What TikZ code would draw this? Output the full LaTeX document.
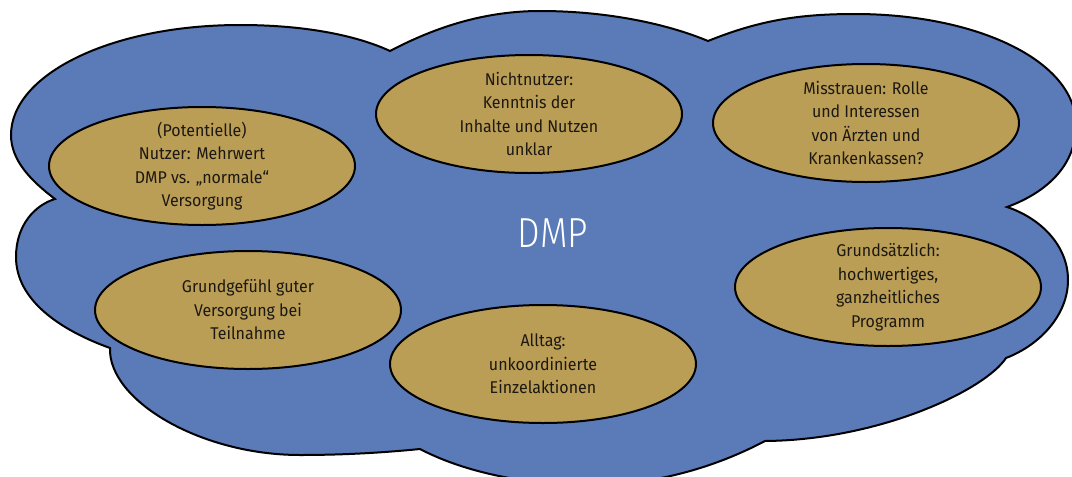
\documentclass[tikz,border=0pt]{standalone}
\usepackage{fontspec}
\setmainfont[FakeStretch=0.94]{Fira Sans}
\newfontfamily\lightsans[FakeStretch=0.85]{Fira Sans Light}
\usepackage{xcolor}
\usepackage{tikz}
\usetikzlibrary{shapes}

\definecolor{cloudblue}{RGB}{90,122,184}
\definecolor{topicgold}{RGB}{187,158,86}
\definecolor{textdark}{RGB}{28,24,18}

\begin{document}
\begin{tikzpicture}[x=1pt, y=-1pt]
        \tikzstyle{cloudline} = [draw=black, line width=2pt, fill=cloudblue]
        \tikzstyle{topic} = [ellipse, draw=black, line width=2pt, fill=topicgold,
            minimum width=306pt, minimum height=118pt, inner xsep=0pt, inner ysep=-12pt,
            align=center, text=textdark, font=\fontsize{17}{23.5}\selectfont]
        \useasboundingbox (0,0) rectangle (1072,477);
        
        % cusps of the cloud
        \coordinate (c1) at (390,51);
        \coordinate (c2) at (708,41);
        \coordinate (c3) at (1007,207);
        \coordinate (c4) at (1006,358);
        \coordinate (c5) at (765,441);
        \coordinate (c6) at (420,449);
        \coordinate (c7) at (110,348);
        \coordinate (c8) at (55,199);
        
        \path [cloudline] (c8) .. controls (30,180) and (11,160) .. (11,135)
            .. controls (11,75) and (110,25) .. (240,25)
            .. controls (310,25) and (360,37) .. (c1)
            .. controls (430,30) and (480,11) .. (540,11)
            .. controls (610,11) and (670,25) .. (c2)
            .. controls (760,20) and (800,14) .. (855,14)
            .. controls (975,14) and (1076,60) .. (1076,125)
            .. controls (1076,170) and (1040,195) .. (c3)
            .. controls (1040,218) and (1068,245) .. (1068,280)
            .. controls (1068,315) and (1040,345) .. (c4)
            .. controls (985,390) and (880,440) .. (c5)
            .. controls (710,470) and (650,485) .. (590,485)
            .. controls (520,485) and (460,470) .. (c6)
            .. controls (380,453) and (340,455) .. (300,455)
            .. controls (200,455) and (108,400) .. (c7)
            .. controls (60,330) and (16,300) .. (16,257)
            .. controls (16,225) and (35,205) .. (c8) -- cycle;
        
        \node [topic] at (202,166) (potential) {(Potentielle)\\Nutzer: Mehrwert\\DMP vs. „normale“\\Versorgung};
        \node [topic] at (529,114) (nonuser) {Nichtnutzer:\\Kenntnis der\\Inhalte und Nutzen\\unklar};
        \node [topic] at (866,123) (distrust) {Misstrauen: Rolle\\und Interessen\\von Ärzten und\\Krankenkassen?};
        \node [topic] at (248,310) (feeling) {Grundgefühl guter\\Versorgung bei\\Teilnahme};
        \node [topic] at (543,364) (everyday) {Alltag:\\unkoordinierte\\Einzelaktionen};
        \node [topic] at (888,287) (principle) {Grundsätzlich:\\hochwertiges,\\ganzheitliches\\Programm};
        
        \node [text=white, font=\lightsans\fontsize{42}{42}\selectfont] at (553,233.5) (dmp) {DMP};
\end{tikzpicture}
\end{document}
